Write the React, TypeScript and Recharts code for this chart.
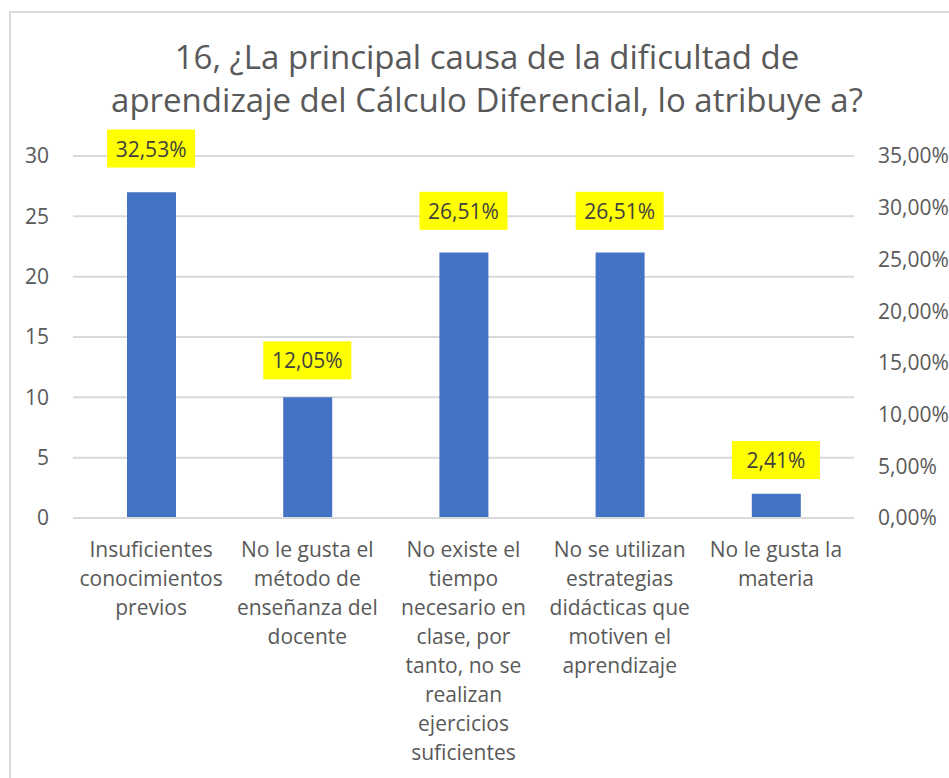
import React from 'react';
import { ComposedChart, Bar, Line, XAxis, YAxis, CartesianGrid, LabelList } from 'recharts';

const categories = [
  'Insuficientes\nconocimientos\nprevios',
  'No le gusta el\nmétodo de\nenseñanza del\ndocente',
  'No existe el\ntiempo\nnecesario en\nclase, por\ntanto, no se\nrealizan\nejercicios\nsuficientes',
  'No se utilizan\nestrategias\ndidácticas que\nmotiven el\naprendizaje',
  'No le gusta la\nmateria',
];
const counts = [27, 10, 22, 22, 2];
const percents = [32.53, 12.05, 26.51, 26.51, 2.41];
const countTicks = [0, 5, 10, 15, 20, 25, 30];
const percentTicks = [0, 5, 10, 15, 20, 25, 30, 35];

const data = categories.map((name, i) => ({ name, count: counts[i], pct: percents[i] }));

const fmtPct = (v: number) => v.toFixed(2).replace('.', ',') + '%';

const FONT = '"Open Sans", sans-serif';
const GREY = '#595959';

const CategoryTick = (props: any) => {
  const { x, y, payload } = props;
  const lines = String(payload.value).split('\n');
  return (
    <text x={x} y={y} textAnchor="middle" fill={GREY} fontSize={21} fontFamily={FONT}>
      {lines.map((l, i) => (
        <tspan key={i} x={x} dy={i === 0 ? 37 : 29}>
          {l}
        </tspan>
      ))}
    </text>
  );
};

const PctLabel = (props: any) => {
  const { x, y, value } = props;
  const cy = y - 33;
  return (
    <g>
      <rect x={x - 44} y={cy - 19} width={88} height={38} fill="#ffff00" />
      <text x={x} y={cy} textAnchor="middle" dominantBaseline="central" fill="#404040" fontSize={21} fontFamily={FONT}>
        {fmtPct(value)}
      </text>
    </g>
  );
};

export default function App() {
  return (
    <div style={{ position: 'fixed', left: 0, top: 0, width: 949, height: 778, background: '#fff', overflow: 'hidden', fontFamily: FONT }}>
      <div style={{ position: 'absolute', left: 9, top: 11, width: 1000, height: 800, borderLeft: '2px solid #d9d9d9', borderTop: '2px solid #d9d9d9' }} />
      <div style={{ position: 'absolute', left: 0, top: 35, width: 974, textAlign: 'center', fontSize: 33, lineHeight: '43px', color: GREY }}>
        16, ¿La principal causa de la dificultad de
        <br />
        aprendizaje del Cálculo Diferencial, lo atribuye a?
      </div>
      <div style={{ position: 'absolute', left: 0, top: 0 }}>
        <ComposedChart width={949} height={778} data={data} margin={{ top: 156, right: 0, bottom: 0, left: 0 }}>
          <CartesianGrid vertical={false} stroke="#d9d9d9" strokeWidth={2} yAxisId="left" />
          <XAxis
            dataKey="name"
            interval={0}
            height={260}
            axisLine={{ stroke: '#d9d9d9', strokeWidth: 2 }}
            tickLine={false}
            tickSize={0}
            tick={<CategoryTick />}
          />
          <YAxis
            yAxisId="left"
            width={73}
            domain={[0, 30]}
            ticks={countTicks}
            axisLine={false}
            tickLine={false}
            tickSize={0}
            tickMargin={24}
            tick={{ fill: GREY, fontSize: 21, fontFamily: FONT }}
          />
          <YAxis
            yAxisId="right"
            orientation="right"
            width={95}
            domain={[0, 35]}
            ticks={percentTicks}
            tickFormatter={fmtPct}
            axisLine={false}
            tickLine={false}
            tickSize={0}
            tickMargin={24}
            tick={{ fill: GREY, fontSize: 21, fontFamily: FONT, textAnchor: 'start' }}
          />
          <Bar yAxisId="left" dataKey="count" fill="#4472c4" barSize={49} isAnimationActive={false} />
          <Line
            yAxisId="right"
            dataKey="pct"
            stroke="none"
            dot={false}
            activeDot={false}
            legendType="none"
            isAnimationActive={false}
          >
            <LabelList dataKey="pct" content={<PctLabel />} />
          </Line>
        </ComposedChart>
      </div>
    </div>
  );
}
